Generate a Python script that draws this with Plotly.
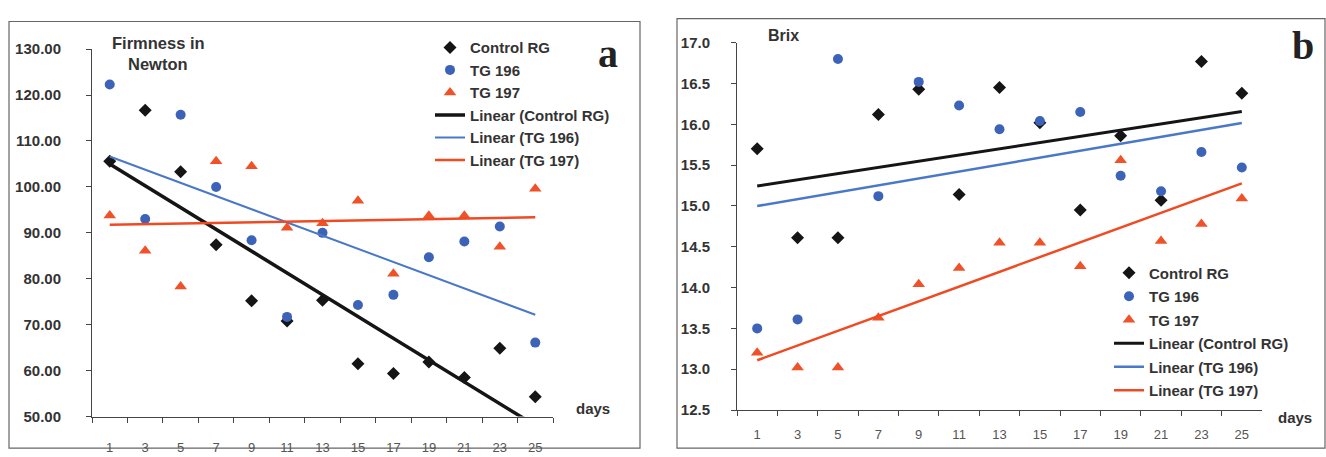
import numpy as np
import plotly.graph_objects as go

days = ["1", "3", "5", "7", "9", "11", "13", "15", "17", "19", "21", "23", "25"]

# Panel a: firmness (Newton)
firm_control = [105.6, 116.7, 103.3, 87.4, 75.2, 70.8, 75.3, 61.5, 59.4, 61.9, 58.5, 64.9, 54.3]
firm_tg196 = [122.3, 93.0, 115.7, 100.0, 88.4, 71.7, 90.0, 74.3, 76.5, 84.7, 88.1, 91.4, 66.1]
firm_tg197 = [93.8, 86.1, 78.3, 105.6, 104.5, 91.1, 92.1, 97.0, 81.1, 93.7, 93.7, 87.0, 99.6]

# Panel b: Brix
brix_control = [15.70, 14.61, 14.61, 16.12, 16.43, 15.14, 16.45, 16.02, 14.95, 15.86, 15.07, 16.77, 16.38]
brix_tg196 = [13.50, 13.61, 16.80, 15.12, 16.52, 16.23, 15.94, 16.04, 16.15, 15.37, 15.18, 15.66, 15.47]
brix_tg197 = [13.20, 13.02, 13.02, 13.63, 14.04, 14.24, 14.55, 14.55, 14.26, 15.56, 14.57, 14.78, 15.09]

series_names = ["Control RG", "TG 196", "TG 197"]

W, H = 1326, 457
def px(x):
    return x / W
def py(y):
    return 1 - y / H

BLACK = "#151515"
BLUE = "#3d63b8"
ORANGE = "#ef5228"
LINE_BLUE = "#4a78c8"
LINE_ORANGE = "#f04a22"
TXT = "#333333"
FONT = "Liberation Sans"

def trend(vals):
    idx = np.arange(len(vals))
    slope, icpt = np.polyfit(idx, np.array(vals, dtype=float), 1)
    return [icpt, icpt + slope * (len(vals) - 1)]

fig = go.Figure()

marker_styles = [
    dict(symbol="diamond", size=10, color=BLACK),
    dict(symbol="circle", size=10, color=BLUE),
    dict(symbol="triangle-up", size=11, color=ORANGE),
]
line_styles = [
    dict(color=BLACK, width=3.5),
    dict(color=LINE_BLUE, width=2),
    dict(color=LINE_ORANGE, width=2.5),
]
right_line_styles = [
    dict(color=BLACK, width=3),
    dict(color=LINE_BLUE, width=2.5),
    dict(color=LINE_ORANGE, width=2.5),
]

panels = [
    ("x", "y", "legend", [firm_control, firm_tg196, firm_tg197], line_styles),
    ("x2", "y2", "legend2", [brix_control, brix_tg196, brix_tg197], right_line_styles),
]

for xa, ya, leg, data, lstyles in panels:
    for i, (name, vals) in enumerate(zip(series_names, data)):
        fig.add_trace(go.Scatter(
            x=days, y=vals, mode="markers", name=name,
            marker=marker_styles[i], xaxis=xa, yaxis=ya, legend=leg,
            legendgroup=leg + name, cliponaxis=False,
        ))
    for i, (name, vals) in enumerate(zip(series_names, data)):
        fig.add_trace(go.Scatter(
            x=[days[0], days[-1]], y=trend(vals), mode="lines",
            name=f"Linear ({name})", line=lstyles[i],
            xaxis=xa, yaxis=ya, legend=leg, legendgroup=leg + "lin" + name,
        ))

axis_common = dict(showline=True, linecolor="#444", linewidth=1, showgrid=False,
                   zeroline=False, ticks="outside", tickcolor="#444", ticklen=5)

fig.update_layout(
    width=W, height=H, autosize=False,
    margin=dict(l=0, r=0, t=0, b=0),
    paper_bgcolor="white", plot_bgcolor="white",
    xaxis=dict(domain=[px(92), px(553)], anchor="y", type="category",
               categoryorder="array", categoryarray=days, range=[-0.5, 12.5],
               tickson="boundaries", ticklabelstandoff=19,
               tickfont=dict(family=FONT, size=13, color="#555"), **axis_common),
    yaxis=dict(domain=[py(423.3), py(41.7)], anchor="x", range=[50, 130], dtick=10,
               tickformat=".2f", ticklabelstandoff=22,
               tickfont=dict(family=FONT, size=15, color=TXT, weight="bold"), **axis_common),
    xaxis2=dict(domain=[px(737), px(1262)], anchor="y2", type="category",
                categoryorder="array", categoryarray=days, range=[-0.5, 12.5],
                tickson="boundaries", ticklabelstandoff=12,
                tickfont=dict(family=FONT, size=13, color="#555"), **axis_common),
    yaxis2=dict(domain=[py(416.5), py(35)], anchor="x2", range=[12.5, 17.0], dtick=0.5,
                tickformat=".1f", ticklabelstandoff=18,
                tickfont=dict(family=FONT, size=15, color=TXT, weight="bold"), **axis_common),
    legend=dict(x=px(430), y=py(23), xanchor="left", yanchor="top",
                bgcolor="rgba(0,0,0,0)", tracegroupgap=0, itemwidth=30,
                font=dict(family=FONT, size=15, color=TXT, weight="bold")),
    legend2=dict(x=px(1109), y=py(257), xanchor="left", yanchor="top",
                 bgcolor="rgba(0,0,0,0)", tracegroupgap=1, itemwidth=30,
                 font=dict(family=FONT, size=15, color=TXT, weight="bold")),
    showlegend=True,
)

frame = dict(type="rect", xref="paper", yref="paper", line=dict(color="#666", width=1.2),
             fillcolor="rgba(0,0,0,0)", layer="below")
fig.add_shape(x0=px(9), x1=px(640), y0=py(456), y1=py(13), **frame)
fig.add_shape(x0=px(677), x1=px(1325), y0=py(456), y1=py(10), **frame)

def label(text, x, y, size, bold=True, family=FONT, anchor="center", color=TXT):
    fig.add_annotation(text=text, x=px(x), y=py(y), xref="paper", yref="paper",
                       xanchor=anchor, yanchor="middle", showarrow=False,
                       font=dict(family=family, size=size, color=color,
                                 weight="bold" if bold else "normal"))

label("Firmness in", 158, 35, 16.5)
label("Newton", 158, 57, 16.5)
label("Brix", 783, 28, 16)
label("days", 593, 415, 15)
label("days", 1295, 424, 15)
label("a", 608, 46, 40, family="Liberation Serif", color="#222")
label("b", 1303, 38, 40, family="Liberation Serif", color="#222")

fig.write_html("out.html", config={"displayModeBar": False},
               post_script="document.body.style.margin='0';")
